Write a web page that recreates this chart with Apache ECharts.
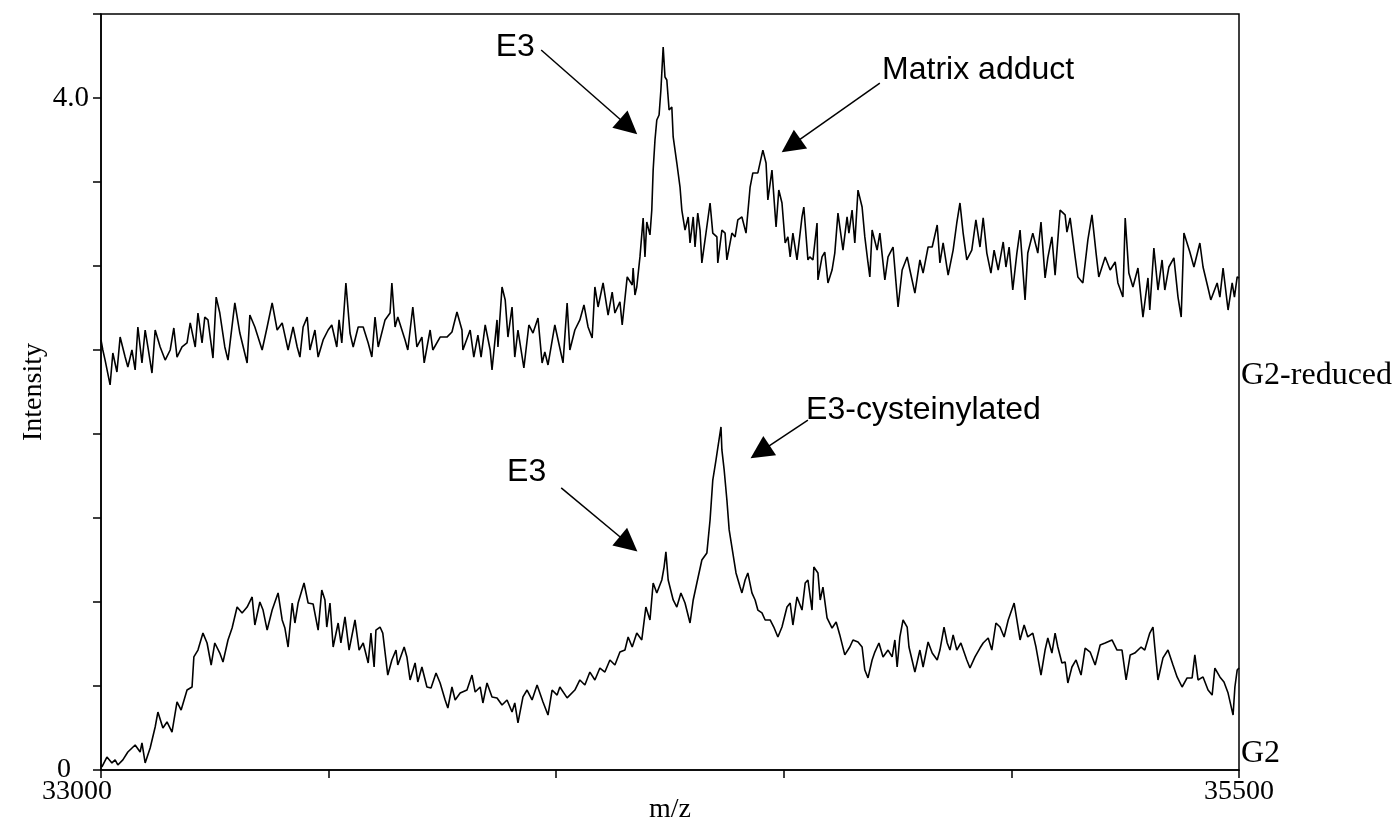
<!DOCTYPE html>
<html>
<head>
<meta charset="utf-8">
<script src="https://cdn.jsdelivr.net/npm/echarts@6/dist/echarts.min.js"></script>
<style>
html,body{margin:0;padding:0;background:#fff;}
#chart{width:1399px;height:832px;}
</style>
</head>
<body>
<div id="chart"></div>
<script>
// ---- Data (m/z, intensity) ----
const xTickLabels = [33000, 35500];
const yTickLabels = [0, 4.0];

const g2ReducedTrace = [[33000,2.560],[33004,2.500],[33009,2.440],[33020,2.292],[33026,2.482],[33035,2.369],[33042,2.577],[33053,2.458],[33059,2.399],[33068,2.500],[33075,2.381],[33081,2.637],[33090,2.423],[33097,2.619],[33103,2.518],[33112,2.363],[33119,2.619],[33130,2.518],[33141,2.440],[33152,2.500],[33160,2.631],[33167,2.458],[33178,2.518],[33189,2.542],[33196,2.661],[33207,2.518],[33213,2.720],[33222,2.542],[33228,2.696],[33235,2.679],[33246,2.452],[33253,2.815],[33261,2.720],[33272,2.518],[33279,2.440],[33294,2.780],[33305,2.601],[33321,2.423],[33327,2.708],[33338,2.637],[33354,2.500],[33365,2.637],[33376,2.780],[33387,2.619],[33398,2.661],[33411,2.500],[33422,2.637],[33431,2.518],[33437,2.458],[33444,2.637],[33453,2.696],[33459,2.500],[33470,2.619],[33477,2.458],[33488,2.560],[33499,2.619],[33507,2.649],[33518,2.518],[33523,2.679],[33529,2.542],[33538,2.899],[33547,2.601],[33554,2.518],[33565,2.637],[33576,2.637],[33587,2.542],[33595,2.458],[33602,2.696],[33609,2.518],[33624,2.679],[33635,2.720],[33639,2.899],[33646,2.637],[33652,2.696],[33668,2.560],[33674,2.500],[33685,2.756],[33694,2.518],[33705,2.577],[33710,2.423],[33723,2.619],[33729,2.500],[33745,2.577],[33760,2.577],[33771,2.607],[33782,2.726],[33793,2.619],[33795,2.500],[33811,2.619],[33819,2.458],[33828,2.589],[33835,2.458],[33844,2.649],[33855,2.500],[33859,2.381],[33870,2.679],[33872,2.518],[33881,2.875],[33888,2.798],[33894,2.577],[33903,2.756],[33909,2.458],[33916,2.619],[33929,2.393],[33940,2.649],[33949,2.601],[33960,2.690],[33969,2.423],[33975,2.488],[33982,2.411],[33997,2.649],[34008,2.512],[34015,2.423],[34024,2.780],[34030,2.500],[34041,2.619],[34052,2.679],[34061,2.768],[34070,2.637],[34079,2.571],[34085,2.875],[34092,2.756],[34103,2.899],[34114,2.708],[34123,2.845],[34129,2.720],[34140,2.786],[34145,2.649],[34156,2.935],[34167,2.887],[34169,2.988],[34173,2.827],[34177,2.875],[34184,3.054],[34191,3.286],[34195,3.054],[34199,3.262],[34206,3.185],[34210,3.333],[34213,3.571],[34217,3.750],[34221,3.869],[34226,3.899],[34230,4.048],[34235,4.304],[34239,4.125],[34243,4.107],[34248,3.929],[34254,3.946],[34257,3.768],[34265,3.613],[34272,3.470],[34276,3.333],[34283,3.214],[34290,3.292],[34294,3.137],[34301,3.292],[34305,3.113],[34311,3.315],[34316,3.214],[34320,3.018],[34329,3.196],[34338,3.375],[34344,3.196],[34353,3.173],[34355,3.018],[34364,3.214],[34371,3.196],[34375,3.036],[34386,3.196],[34393,3.173],[34399,3.274],[34408,3.292],[34417,3.196],[34426,3.470],[34432,3.554],[34443,3.554],[34454,3.690],[34461,3.613],[34465,3.393],[34474,3.571],[34483,3.232],[34489,3.452],[34496,3.375],[34503,3.137],[34509,3.173],[34514,3.054],[34520,3.196],[34529,3.036],[34540,3.292],[34544,3.351],[34553,3.036],[34557,3.054],[34564,3.036],[34573,3.256],[34575,2.917],[34584,3.054],[34590,3.083],[34597,2.899],[34606,2.976],[34612,3.077],[34619,3.315],[34630,3.095],[34639,3.292],[34643,3.196],[34650,3.333],[34656,3.137],[34663,3.452],[34672,3.351],[34678,3.173],[34685,3.018],[34689,2.935],[34694,3.214],[34705,3.095],[34711,3.196],[34722,2.917],[34729,3.054],[34740,3.113],[34751,2.756],[34760,2.976],[34771,3.054],[34777,2.976],[34788,2.839],[34799,3.036],[34806,2.958],[34817,3.113],[34826,3.113],[34837,3.244],[34843,3.018],[34850,3.137],[34861,2.946],[34872,3.095],[34880,3.256],[34887,3.375],[34894,3.196],[34902,3.036],[34913,3.095],[34922,3.274],[34931,3.113],[34938,3.286],[34946,3.077],[34955,2.958],[34962,3.095],[34971,2.976],[34982,3.143],[34988,2.994],[34995,3.113],[35003,2.857],[35012,3.077],[35019,3.214],[35030,2.798],[35036,3.077],[35047,3.196],[35058,3.077],[35065,3.262],[35074,2.929],[35080,3.048],[35089,3.173],[35096,2.946],[35107,3.333],[35118,3.304],[35122,3.202],[35129,3.286],[35140,3.054],[35146,2.935],[35157,2.899],[35168,3.155],[35177,3.304],[35186,3.077],[35192,2.935],[35206,3.054],[35217,2.976],[35228,3.024],[35234,2.899],[35245,2.815],[35250,3.286],[35258,2.958],[35267,2.875],[35278,2.988],[35289,2.696],[35300,2.929],[35304,2.738],[35313,3.107],[35322,2.857],[35331,3.036],[35337,2.857],[35346,2.994],[35357,3.048],[35366,2.815],[35373,2.696],[35379,3.196],[35392,3.083],[35401,2.994],[35414,3.137],[35421,2.994],[35432,2.869],[35438,2.798],[35452,2.899],[35458,2.815],[35465,2.988],[35476,2.738],[35485,2.899],[35490,2.815],[35496,2.935],[35500,2.929]];

const g2Trace = [[33000,0.030],[33002,0.018],[33013,0.077],[33024,0.042],[33031,0.060],[33037,0.030],[33048,0.060],[33059,0.107],[33075,0.149],[33086,0.107],[33090,0.161],[33097,0.042],[33108,0.131],[33119,0.256],[33125,0.345],[33136,0.250],[33145,0.286],[33156,0.226],[33167,0.405],[33176,0.357],[33189,0.476],[33200,0.494],[33204,0.673],[33213,0.714],[33224,0.815],[33233,0.756],[33242,0.625],[33250,0.756],[33261,0.696],[33268,0.643],[33279,0.774],[33288,0.845],[33299,0.970],[33310,0.935],[33321,0.970],[33332,1.030],[33338,0.863],[33349,1.000],[33356,0.952],[33365,0.833],[33376,0.952],[33389,1.054],[33398,0.893],[33404,0.845],[33411,0.732],[33420,0.994],[33426,0.875],[33433,0.994],[33446,1.113],[33455,0.994],[33466,0.988],[33477,0.833],[33485,1.071],[33492,1.012],[33496,0.851],[33503,0.994],[33510,0.732],[33521,0.875],[33527,0.756],[33536,0.911],[33545,0.714],[33558,0.893],[33567,0.714],[33576,0.756],[33587,0.637],[33593,0.815],[33600,0.613],[33604,0.833],[33613,0.851],[33619,0.815],[33630,0.565],[33639,0.655],[33648,0.714],[33652,0.625],[33666,0.732],[33672,0.673],[33679,0.536],[33690,0.637],[33696,0.524],[33705,0.613],[33716,0.494],[33725,0.488],[33736,0.577],[33745,0.518],[33756,0.417],[33762,0.369],[33771,0.494],[33778,0.417],[33789,0.458],[33804,0.476],[33815,0.565],[33822,0.464],[33833,0.494],[33839,0.399],[33848,0.518],[33859,0.435],[33870,0.429],[33881,0.387],[33892,0.417],[33903,0.345],[33909,0.399],[33916,0.280],[33927,0.435],[33936,0.476],[33947,0.417],[33958,0.506],[33971,0.405],[33982,0.327],[33991,0.476],[34002,0.446],[34008,0.494],[34024,0.429],[34041,0.476],[34052,0.536],[34063,0.506],[34074,0.583],[34085,0.536],[34096,0.607],[34107,0.583],[34118,0.655],[34129,0.625],[34140,0.702],[34151,0.714],[34158,0.792],[34167,0.732],[34177,0.815],[34188,0.774],[34197,0.970],[34206,0.893],[34213,1.113],[34221,1.054],[34232,1.131],[34237,1.208],[34241,1.298],[34246,1.131],[34257,1.012],[34265,0.970],[34274,1.054],[34283,0.994],[34294,0.875],[34301,1.012],[34309,1.113],[34320,1.250],[34331,1.292],[34338,1.488],[34344,1.726],[34351,1.845],[34355,1.917],[34362,2.042],[34364,1.905],[34369,1.786],[34375,1.607],[34380,1.429],[34388,1.292],[34395,1.173],[34404,1.089],[34408,1.054],[34415,1.131],[34421,1.173],[34430,1.054],[34437,1.012],[34443,0.952],[34452,0.935],[34459,0.893],[34470,0.893],[34478,0.851],[34487,0.792],[34496,0.851],[34507,0.970],[34514,0.994],[34520,0.863],[34529,1.030],[34540,0.952],[34547,1.113],[34553,1.131],[34562,0.952],[34566,1.208],[34575,1.173],[34580,1.012],[34586,1.089],[34595,0.905],[34606,0.845],[34615,0.881],[34623,0.804],[34634,0.685],[34645,0.732],[34652,0.774],[34663,0.762],[34672,0.732],[34678,0.595],[34685,0.548],[34694,0.655],[34700,0.702],[34709,0.756],[34718,0.673],[34729,0.714],[34738,0.673],[34744,0.774],[34749,0.613],[34755,0.792],[34762,0.893],[34771,0.851],[34775,0.732],[34788,0.583],[34799,0.714],[34806,0.613],[34817,0.762],[34826,0.696],[34837,0.655],[34843,0.714],[34852,0.851],[34859,0.756],[34865,0.714],[34872,0.804],[34880,0.714],[34889,0.756],[34902,0.655],[34909,0.607],[34920,0.673],[34931,0.726],[34938,0.756],[34949,0.786],[34957,0.714],[34966,0.875],[34975,0.851],[34984,0.792],[34993,0.893],[35006,0.994],[35012,0.893],[35019,0.774],[35028,0.863],[35036,0.792],[35047,0.815],[35054,0.732],[35065,0.565],[35074,0.714],[35080,0.786],[35089,0.696],[35096,0.815],[35102,0.732],[35111,0.637],[35118,0.643],[35124,0.518],[35133,0.613],[35142,0.655],[35153,0.565],[35162,0.726],[35173,0.702],[35184,0.625],[35195,0.744],[35206,0.756],[35221,0.774],[35232,0.714],[35243,0.714],[35252,0.536],[35261,0.685],[35271,0.696],[35285,0.732],[35293,0.714],[35304,0.815],[35311,0.851],[35315,0.732],[35322,0.536],[35333,0.667],[35344,0.714],[35355,0.625],[35364,0.554],[35375,0.494],[35386,0.548],[35397,0.548],[35403,0.685],[35410,0.536],[35421,0.554],[35432,0.476],[35441,0.446],[35447,0.607],[35458,0.554],[35467,0.524],[35476,0.458],[35487,0.327],[35491,0.494],[35496,0.595],[35500,0.607]];

// annotation texts: [label, m/z, intensity, alignment]
const annotationTexts = [
  ['E3', 33953, 4.304, 'right'],
  ['Matrix adduct', 34716, 4.167, 'left'],
  ['E3-cysteinylated', 34549, 2.143, 'left'],
  ['E3', 33978, 1.774, 'right']
];
// arrows: [from m/z, from intensity, to m/z, to intensity]
const arrows = [
  [33967, 4.286, 34159, 3.829],
  [34711, 4.089, 34516, 3.716],
  [34553, 2.083, 34448, 1.893],
  [34011, 1.679, 34159, 1.345]
];
// trace names at the right edge: [label, intensity]
const traceNames = [
  ['G2-reduced', 2.345],
  ['G2', 0.095]
];

const serif = '"Liberation Serif", "Times New Roman", serif';
const sans = '"Liberation Sans", Arial, sans-serif';

const chart = echarts.init(document.getElementById('chart'), null, {renderer: 'canvas'});

const option = {
  animation: false,
  backgroundColor: '#fff',
  grid: {left: 101, right: 160, top: 14, bottom: 62, show: true, borderColor: '#000', borderWidth: 1.5,
    backgroundColor: 'transparent', containLabel: false, outerBoundsMode: 'none'},
  xAxis: {
    type: 'value', min: 33000, max: 35500, interval: 500,
    name: 'm/z', nameLocation: 'middle', nameGap: 26, nameMoveOverlap: false,
    nameTextStyle: {fontFamily: serif, fontSize: 28, color: '#000'},
    axisLine: {show: true, lineStyle: {color: '#000', width: 1.5}},
    axisTick: {show: true, inside: false, length: 8, lineStyle: {color: '#000', width: 1.5}},
    splitLine: {show: false},
    axisLabel: {
      margin: 8, color: '#000', fontFamily: serif, fontSize: 28,
      formatter: v => v === xTickLabels[0] ? '{l|' + v + '}' : (v === xTickLabels[1] ? String(v) : ''),
      rich: {l: {fontFamily: serif, fontSize: 28, color: '#000', padding: [0, 48, 0, 0]}}
    }
  },
  yAxis: {
    type: 'value', min: 0, max: 4.5, interval: 0.5,
    name: 'Intensity', nameLocation: 'middle', nameGap: 53, nameRotate: 90, nameMoveOverlap: false,
    nameTextStyle: {fontFamily: serif, fontSize: 28, color: '#000'},
    axisLine: {show: true, lineStyle: {color: '#000', width: 1.5}},
    axisTick: {show: true, inside: false, length: 8, lineStyle: {color: '#000', width: 1.5}},
    splitLine: {show: false},
    axisLabel: {
      margin: 12, color: '#000', fontFamily: serif, fontSize: 29,
      formatter: v => v === yTickLabels[0] ? '{z|0}' : (v === yTickLabels[1] ? '4.0' : ''),
      rich: {z: {fontFamily: serif, fontSize: 28, color: '#000', padding: [0, 18, 0, 0]}}
    }
  },
  series: [
    {
      name: 'G2-reduced', type: 'line', data: g2ReducedTrace, showSymbol: false, symbol: 'none',
      lineStyle: {color: '#000', width: 1.6}, silent: true
    },
    {
      name: 'G2', type: 'line', data: g2Trace, showSymbol: false, symbol: 'none',
      lineStyle: {color: '#000', width: 1.6}, silent: true
    },
    {
      name: 'annotations', type: 'scatter', symbolSize: 0, clip: false, silent: true,
      itemStyle: {color: '#000', opacity: 1},
      data: annotationTexts.map(a => ({
        value: [a[1], a[2]],
        label: {show: true, formatter: a[0], position: a[3] === 'right' ? 'left' : 'right', distance: 0,
          fontFamily: sans, fontSize: 32, color: '#000', opacity: 1}
      })).concat(traceNames.map(t => ({
        value: [xTickLabels[1], t[1]],
        label: {show: true, formatter: t[0], position: 'right', distance: 2,
          fontFamily: serif, fontSize: 32, color: '#000', opacity: 1}
      }))),
      markLine: {
        silent: true, animation: false,
        symbol: ['none', 'triangle'], symbolSize: 23,
        lineStyle: {color: '#000', width: 1.5, type: 'solid', opacity: 1},
        itemStyle: {color: '#000', opacity: 1},
        label: {show: false},
        data: arrows.map(a => [{coord: [a[0], a[1]]}, {coord: [a[2], a[3]]}])
      }
    }
  ]
};
chart.setOption(option);
</script>
</body>
</html>
